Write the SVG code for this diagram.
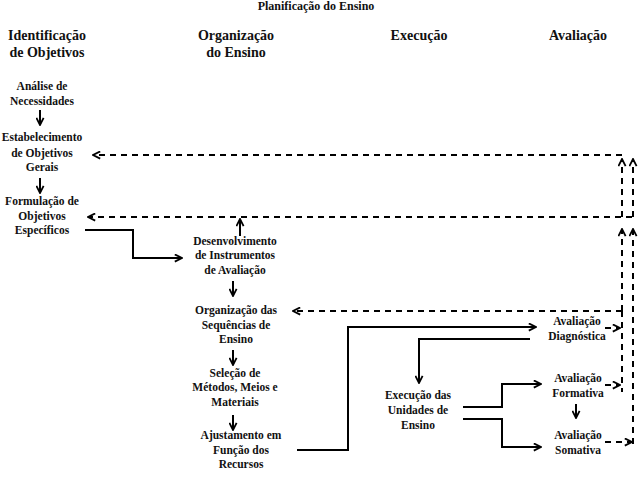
<svg xmlns="http://www.w3.org/2000/svg" width="639" height="480" viewBox="0 0 639 480">
<style>
text{font-family:"Liberation Serif","Times New Roman",serif;font-weight:bold;fill:#111;text-anchor:middle}
.h{font-size:14px}
.n{font-size:11.5px}
.t{font-size:12px}
.s{fill:none;stroke:#000;stroke-width:2}
.d{fill:none;stroke:#000;stroke-width:2;stroke-dasharray:6,5}
</style>
<defs>
<marker id="a" viewBox="0 0 10 10" refX="9" refY="5" markerWidth="9" markerHeight="9" markerUnits="userSpaceOnUse" orient="auto">
<path d="M1,1 L9,5 L1,9" fill="none" stroke="#000" stroke-width="2"/>
</marker>
</defs>
<rect width="639" height="480" fill="#fff"/>
<text class="t" x="316" y="10">Planificação do Ensino</text>
<g id="headers">
<text class="h" x="47" y="40">Identificação</text>
<text class="h" x="47" y="57">de Objetivos</text>
<text class="h" x="236" y="40">Organização</text>
<text class="h" x="236" y="57">do Ensino</text>
<text class="h" x="419" y="40">Execução</text>
<text class="h" x="578" y="40">Avaliação</text>
</g>
<g id="n1"><text class="n" x="42" y="90">Análise de</text><text class="n" x="42" y="105">Necessidades</text></g>
<g id="n2"><text class="n" x="42" y="141">Estabelecimento</text><text class="n" x="42" y="157">de Objetivos</text><text class="n" x="42" y="171">Gerais</text></g>
<g id="n3"><text class="n" x="42" y="205">Formulação de</text><text class="n" x="42" y="220">Objetivos</text><text class="n" x="42" y="234">Específicos</text></g>
<g id="n4"><text class="n" x="235" y="245">Desenvolvimento</text><text class="n" x="235" y="259">de Instrumentos</text><text class="n" x="235" y="274">de Avaliação</text></g>
<g id="n5"><text class="n" x="236" y="314">Organização das</text><text class="n" x="236" y="329">Sequências de</text><text class="n" x="236" y="343">Ensino</text></g>
<g id="n6"><text class="n" x="235" y="377">Seleção de</text><text class="n" x="235" y="391">Métodos, Meios e</text><text class="n" x="235" y="406">Materiais</text></g>
<g id="n7"><text class="n" x="241" y="439">Ajustamento em</text><text class="n" x="241" y="454">Função dos</text><text class="n" x="241" y="468">Recursos</text></g>
<g id="n8"><text class="n" x="418" y="399">Execução das</text><text class="n" x="418" y="414">Unidades de</text><text class="n" x="418" y="429">Ensino</text></g>
<g id="n9"><text class="n" x="577" y="325">Avaliação</text><text class="n" x="577" y="340">Diagnóstica</text></g>
<g id="n10"><text class="n" x="578" y="382">Avaliação</text><text class="n" x="578" y="397">Formativa</text></g>
<g id="n11"><text class="n" x="578" y="439">Avaliação</text><text class="n" x="578" y="454">Somativa</text></g>
<g id="connectors">
<path class="s" d="M40,110 V125" marker-end="url(#a)"/>
<path class="s" d="M40,178 V193" marker-end="url(#a)"/>
<path class="s" d="M233,281 V296" marker-end="url(#a)"/>
<path class="s" d="M233,350 V365" marker-end="url(#a)"/>
<path class="s" d="M233,415 V430" marker-end="url(#a)"/>
<path class="s" d="M576,404 V418" marker-end="url(#a)"/>
<path class="s" d="M240,236 V219" marker-end="url(#a)"/>
<path class="s" d="M85,230 H133 V258 H182" marker-end="url(#a)"/>
<path class="s" d="M297,450 H348 V327 H536" marker-end="url(#a)"/>
<path class="s" d="M530,339 H419 V383" marker-end="url(#a)"/>
<path class="s" d="M463,407 H502 V384 H541" marker-end="url(#a)"/>
<path class="s" d="M463,419 H502 V447 H541" marker-end="url(#a)"/>
<path class="d" d="M622,155 H93" marker-end="url(#a)"/>
<path class="d" d="M632,217 H88" marker-end="url(#a)"/>
<path class="d" d="M622,311 H293" marker-end="url(#a)"/>
<path class="d" d="M622,311 V229" marker-end="url(#a)"/>
<path class="d" d="M622,217 V159" marker-end="url(#a)"/>
<path class="d" d="M622,311 V392"/>
<path class="d" d="M633,444 V229" marker-end="url(#a)"/>
<path class="d" d="M633,217 V159" marker-end="url(#a)"/>
<path class="d" d="M605,328 H620" marker-end="url(#a)"/>
<path class="d" d="M605,385 H620" marker-end="url(#a)"/>
<path class="d" d="M605,442 H632" marker-end="url(#a)"/>
</g>
</svg>
